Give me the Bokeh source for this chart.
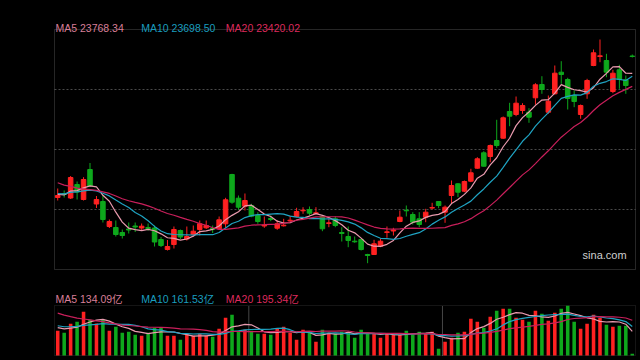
import pandas as pd
from bokeh.plotting import figure
from bokeh.layouts import column
from bokeh.models import ColumnDataSource, Range1d, Label, BoxAnnotation, GlobalInlineStyleSheet
from bokeh.embed import file_html
from bokeh.resources import INLINE

# ---------------- data (index points, volume in 亿) ----------------
open_price = [20040, 20160, 20025, 20430, 19980, 20880, 19845, 19920, 19170, 19140,
              18990, 19095, 19185, 19125, 19140, 19125, 18780, 18480, 18630, 19050,
              18795, 18930, 19080, 19131, 19110, 19101, 19251, 20730, 20019, 19779,
              19800, 19500, 19185, 19410, 19119, 19191, 19341, 19470, 19641, 19680,
              19560, 19470, 19260, 19401, 18990, 18870, 18729, 18780, 18330, 18330,
              18579, 18990, 19035, 19320, 19659, 19530, 19401, 19449, 19722, 19920,
              19599, 20100, 20451, 20229, 20529, 20919, 21381, 21270, 21750, 21819,
              22620, 22530, 22650, 22599, 23031, 23430, 22599, 23151, 23799, 23580,
              23100, 22530, 23151, 24000, 24270, 24150, 23220, 23871, 23571, 24285]
high_price = [20310, 20250, 20685, 20520, 20649, 21075, 20085, 20100, 19380, 19350,
              19080, 19290, 19290, 19260, 19260, 19200, 18855, 18765, 19170, 19080,
              19170, 19200, 19350, 19350, 19200, 19470, 20031, 20751, 20100, 20160,
              19851, 19599, 19470, 19500, 19350, 19401, 19491, 19731, 19749, 19770,
              19749, 19500, 19401, 19470, 19149, 19170, 18870, 18801, 18351, 18771,
              18801, 19170, 19131, 19650, 19800, 19599, 19599, 19701, 19881, 19920,
              19800, 20550, 20469, 20550, 20901, 21249, 21429, 21630, 22371, 22470,
              22881, 23070, 22869, 22719, 23469, 23679, 23100, 24000, 24129, 23631,
              23250, 22830, 23601, 24480, 24780, 24351, 23871, 24021, 23700, 24330]
low_price = [19950, 20040, 19995, 19980, 19950, 20370, 19725, 19290, 19125, 18870,
             18810, 18960, 19005, 19065, 19050, 18570, 18555, 18450, 18510, 18795,
             18750, 18870, 18900, 19095, 18975, 19071, 19131, 19851, 19671, 19650,
             19449, 19251, 19131, 19329, 19071, 19170, 19269, 19449, 19551, 19500,
             19530, 19029, 19149, 19149, 18720, 18549, 18681, 18450, 18069, 18321,
             18549, 18831, 18900, 19299, 19470, 19230, 19149, 19299, 19680, 19719,
             19281, 19869, 20049, 20199, 20499, 20901, 20970, 21099, 21531, 21801,
             22179, 22479, 22551, 22281, 22821, 23151, 22551, 23130, 23451, 22680,
             22749, 22401, 23001, 23979, 24099, 23649, 23169, 23301, 23151, 24240]
close_price = [20100, 20130, 20640, 20205, 20580, 20385, 19980, 19380, 19320, 18930,
               18900, 19065, 19155, 19179, 19110, 18705, 18600, 18570, 19080, 18855,
               18870, 19029, 19251, 19200, 19080, 19371, 19971, 19899, 19749, 19950,
               19479, 19320, 19215, 19380, 19251, 19209, 19359, 19620, 19659, 19569,
               19581, 19101, 19281, 19200, 18960, 18750, 18711, 18480, 18300, 18651,
               18729, 19011, 19065, 19449, 19641, 19299, 19230, 19599, 19740, 19800,
               19749, 20400, 20199, 20520, 20781, 21201, 20979, 21600, 21600, 22431,
               22479, 22869, 22800, 22449, 23421, 23280, 22929, 23769, 23730, 23010,
               22920, 22800, 23550, 24381, 24291, 23799, 23769, 23580, 23400, 24270]
volume = [137.1, 126.0, 175.9, 187.0, 242.5, 198.1, 177.6, 198.1, 137.1, 159.3,
          126.0, 131.5, 114.9, 109.3, 126.0, 153.7, 153.7, 109.3, 109.3, 87.1,
          120.4, 109.3, 120.4, 109.3, 103.8, 148.2, 209.2, 225.9, 137.1, 142.6,
          137.1, 120.4, 120.4, 114.9, 148.2, 159.3, 126.0, 87.1, 142.6, 126.0,
          76.0, 142.6, 126.0, 120.4, 131.5, 126.0, 98.2, 142.6, 126.0, 120.4,
          98.2, 120.4, 114.9, 114.9, 137.1, 114.9, 131.5, 120.4, 131.5, 37.2,
          76.0, 98.2, 126.0, 131.5, 203.7, 187.0, 153.7, 214.8, 248.1, 259.2,
          259.2, 209.2, 198.1, 187.0, 248.1, 231.4, 192.6, 237.0, 259.2, 275.8,
          187.0, 148.2, 175.9, 225.9, 209.2, 170.4, 159.3, 164.8, 164.8, 9.4]
# sessions before the visible window (only feed the moving averages)
prior_close = [21510, 21390, 21300, 21150, 20700, 20400, 20250, 20310, 20490, 20520,
               20250, 20160, 20100, 20250, 20190, 20190, 20070, 20130, 20160]
prior_volume = [350, 340, 345, 345, 300, 290, 280, 270, 270, 260,
                180, 170, 175, 180, 170, 160, 155, 165, 158]
month_breaks = [29.6, 59.6]

price_labels = ["MA5 23768.34", "MA10 23698.50", "MA20 23420.02"]
volume_labels = ["MA5 134.09亿", "MA10 161.53亿", "MA20 195.34亿"]
brand = "sina.com"

# ---------------- styling ----------------
RED = "#ff2121"
GREEN = "#0ea81c"
MA_LINE = ["#e99aae", "#1fa3c2", "#c91f5b"]
MA_TEXT = ["#d97f98", "#1a9dbf", "#dd2a5c"]
FONT = "Liberation Sans, Noto Sans CJK SC"
BG = "#000000"

n = len(close_price)
idx = list(range(n))
colors = [RED if c >= o else GREEN for o, c in zip(open_price, close_price)]
body_top = [max(o, c) for o, c in zip(open_price, close_price)]
body_bot = [min(o, c) for o, c in zip(open_price, close_price)]

closes_all = pd.Series(prior_close + close_price, dtype=float)
vols_all = pd.Series(prior_volume + volume, dtype=float)
k = len(prior_close)
ma_p = {w: closes_all.rolling(w).mean().iloc[k:].tolist() for w in (5, 10, 20)}
ma_v = {w: vols_all.rolling(w).mean().iloc[k:].tolist() for w in (5, 10, 20)}

src = ColumnDataSource(dict(x=idx, o=open_price, h=high_price, l=low_price, c=close_price,
                            top=body_top, bot=body_bot, col=colors, vol=volume,
                            ma5=ma_p[5], ma10=ma_p[10], ma20=ma_p[20],
                            vma5=ma_v[5], vma10=ma_v[10], vma20=ma_v[20]))

# pixel layout of the panels
W = 640
BOX_L, BOX_R = 54, 635
PX_PER_BAR = (BOX_R - BOX_L) / n
X0 = -0.5 - BOX_L / PX_PER_BAR
X1 = n - 0.5 + (W - BOX_R) / PX_PER_BAR
x_range = Range1d(X0, X1)

P_LO, P_HI = 17880, 25080          # price box: y 29..269 px
P_PER_PX = (P_HI - P_LO) / 240
H1 = 278
p_range = Range1d(P_LO - 9 * P_PER_PX, P_HI + 29 * P_PER_PX)

V_HI = 277.5                        # volume box: y 305..355 px
V_PER_PX = V_HI / 50
H2 = 82
v_range = Range1d(-5 * V_PER_PX, V_HI + 27 * V_PER_PX)


def base_fig(h, yr):
    f = figure(width=W, height=h, output_backend="svg", toolbar_location=None,
               x_axis_type=None, y_axis_type=None, x_range=x_range, y_range=yr,
               min_border=0, min_border_left=0, min_border_right=0,
               min_border_top=0, min_border_bottom=0)
    f.background_fill_color = BG
    f.border_fill_color = BG
    f.outline_line_color = None
    return f


# ---------------- price panel ----------------
p = base_fig(H1, p_range)
q = (P_HI - P_LO) / 4
grid_y = [P_LO + j * q for j in (1, 2, 3)]
p.segment(x0=[-0.5] * 3, x1=[n - 0.5] * 3, y0=grid_y, y1=grid_y,
          line_color="#4a4a4a", line_dash="2 2", line_width=1)
p.add_layout(BoxAnnotation(left=-0.5, right=n - 0.5, bottom=P_LO, top=P_HI,
                           fill_alpha=0, line_color="#7f7f7f", line_width=1))

p.segment(x0="x", y0="h", x1="x", y1="l", source=src, line_color="col", line_width=1)
p.vbar(x="x", top="top", bottom="bot", width=0.7, source=src,
       fill_color="col", line_color="col", line_width=1)
for key, colr in zip(("ma5", "ma10", "ma20"), MA_LINE):
    p.line("x", key, source=src, line_color=colr, line_width=1.2)

label_x = [-0.345, 12.93, 26.04]
for t, xx, colr in zip(price_labels, label_x, MA_TEXT):
    p.add_layout(Label(x=xx, y=P_HI + 1.3 * P_PER_PX, text=t, text_color=colr,
                       text_font=FONT, text_font_size="10.5px", text_baseline="alphabetic"))
p.add_layout(Label(x=81.3, y=P_LO + 15 * P_PER_PX, text=brand, text_color="#cfcfcf",
                   text_font=FONT, text_font_size="11px", text_baseline="alphabetic"))

# ---------------- volume panel ----------------
v = base_fig(H2, v_range)
v.add_layout(BoxAnnotation(left=-0.5, right=n - 0.5, bottom=0, top=V_HI,
                           fill_alpha=0, line_color="#8a8a8a", line_dash="1 1", line_width=1))
v.segment(x0=month_breaks, x1=month_breaks, y0=[0, 0], y1=[V_HI, V_HI],
          line_color="#8a8a8a", line_dash="1 1", line_width=1)

v.vbar(x="x", top="vol", bottom=0, width=0.55, source=src,
       fill_color="col", line_color=None)
for key, colr in zip(("vma5", "vma10", "vma20"), MA_LINE):
    v.line("x", key, source=src, line_color=colr, line_width=1.2)

for t, xx, colr in zip(volume_labels, label_x, MA_TEXT):
    v.add_layout(Label(x=xx, y=V_HI + 6.5 * V_PER_PX, text=t, text_color=colr,
                       text_font=FONT, text_font_size="10.5px", text_baseline="alphabetic"))

layout = column(p, v, stylesheets=[GlobalInlineStyleSheet(css="body{background:#000;}")])

open("out.html", "w").write(file_html(layout, INLINE))
